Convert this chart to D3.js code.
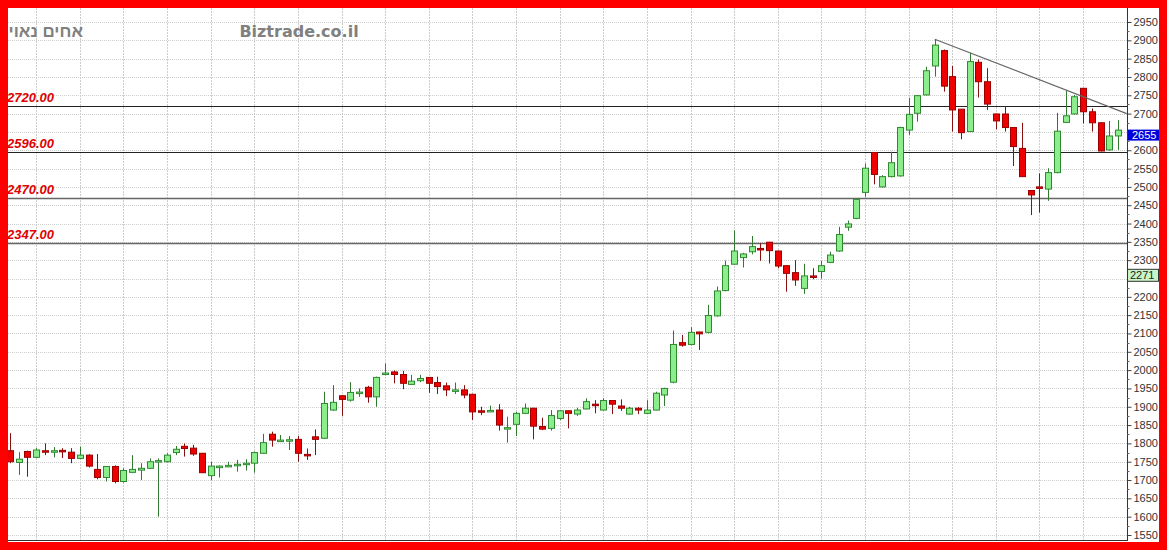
<!DOCTYPE html>
<html><head><meta charset="utf-8">
<script src="https://cdn.jsdelivr.net/npm/d3@7"></script>
<style>html,body{margin:0;padding:0;background:#fff}svg{display:block}</style>
</head><body>
<svg id="c" width="1167" height="550"></svg>
<script>
// ---- data ----
const opens  = [1780,1748,1778,1762,1780,1777,1781,1776,1759,1768,1729,1707,1737,1696,1721,1727,1732,1749,1750,1775,1792,1787,1773,1712,1737,1737,1741,1743,1746,1773,1825,1807,1808,1811,1770,1818,1814,1891,1930,1918,1938,1953,1927,1988,1995,1988,1961,1971,1980,1966,1957,1944,1946,1934,1889,1887,1891,1840,1852,1882,1896,1846,1841,1868,1889,1880,1894,1907,1891,1917,1902,1880,1896,1882,1891,1932,1967,2075,2070,2104,2103,2148,2217,2289,2307,2323,2332,2349,2325,2285,2266,2223,2257,2269,2294,2325,2390,2414,2485,2594,2500,2528,2530,2655,2701,2751,2830,2872,2801,2712,2651,2840,2787,2699,2699,2662,2605,2490,2500,2494,2539,2676,2699,2769,2705,2675,2601,2639];
const highs  = [1828,1776,1780,1787,1800,1790,1787,1787,1791,1770,1771,1738,1740,1732,1768,1746,1759,1759,1773,1793,1800,1796,1774,1750,1740,1750,1755,1757,1778,1826,1832,1823,1820,1820,1786,1838,1941,1959,1932,1967,1950,1957,1982,2018,1999,1998,1987,1987,1981,1982,1966,1966,1959,1935,1900,1903,1907,1873,1886,1909,1897,1870,1891,1891,1890,1897,1923,1918,1923,1918,1920,1900,1899,1918,1941,1952,2108,2096,2117,2105,2178,2228,2299,2381,2320,2366,2346,2350,2326,2286,2300,2290,2278,2298,2323,2391,2408,2469,2564,2595,2532,2596,2664,2743,2750,2828,2903,2875,2830,2713,2866,2848,2824,2700,2719,2663,2675,2491,2537,2551,2702,2762,2751,2770,2714,2676,2680,2682];
const lows   = [1746,1714,1709,1760,1768,1762,1760,1746,1757,1734,1702,1696,1691,1693,1719,1700,1730,1600,1748,1768,1764,1766,1719,1700,1707,1735,1723,1726,1720,1772,1791,1805,1782,1750,1755,1768,1812,1889,1875,1914,1927,1911,1900,1986,1964,1948,1960,1967,1938,1935,1929,1935,1923,1864,1877,1886,1835,1802,1820,1880,1811,1836,1835,1864,1841,1875,1893,1882,1890,1880,1889,1878,1880,1880,1890,1902,1964,2064,2068,2055,2100,2146,2215,2288,2280,2316,2298,2291,2278,2214,2230,2208,2248,2250,2292,2323,2380,2412,2473,2507,2498,2526,2528,2642,2678,2749,2801,2760,2651,2630,2650,2744,2710,2657,2651,2557,2527,2423,2430,2462,2537,2675,2697,2673,2651,2597,2599,2601];
const closes = [1750,1757,1762,1782,1777,1780,1777,1759,1768,1738,1707,1737,1696,1726,1729,1732,1750,1753,1768,1784,1786,1771,1720,1738,1738,1740,1743,1746,1775,1802,1809,1809,1810,1773,1768,1811,1909,1912,1920,1939,1940,1927,1980,1992,1988,1964,1970,1977,1964,1955,1946,1946,1932,1886,1886,1890,1850,1843,1882,1896,1847,1839,1876,1889,1882,1891,1914,1905,1917,1907,1896,1896,1891,1891,1937,1950,2070,2068,2103,2099,2149,2216,2285,2325,2317,2337,2328,2326,2284,2264,2246,2257,2255,2285,2314,2370,2399,2466,2551,2534,2528,2566,2662,2698,2749,2817,2887,2775,2710,2648,2842,2787,2726,2680,2662,2610,2528,2478,2496,2539,2652,2694,2746,2705,2675,2598,2639,2655];
const levels = [2720, 2596, 2470, 2347];
const levelLabels = ["2720.00", "2596.00", "2470.00", "2347.00"];
const yTicks = d3.range(1550, 2951, 50);
const hiddenTicks = [2650, 2250]; // covered by the value boxes in the reference
const trendIdx = [107, 129];
const trendVal = [2903, 2700];
const lastLabel = "2655";
const markerVal = 2271;
const markerLabel = "2271";
const title = "אחים נאוי";
const site = "Biztrade.co.il";

// ---- layout ----
const svg = d3.select("#c");
const L = 8, T = 8, R = 1127, B = 540;
const x = d3.scaleLinear().domain([1, 128]).range([10, 1118]);
const y = d3.scaleLinear().domain([1550, 2950]).range([535, 22]);

svg.append("rect").attr("width", 1167).attr("height", 550).attr("fill", "#fff");
svg.append("defs").append("clipPath").attr("id", "pc")
  .append("rect").attr("x", L).attr("y", T).attr("width", R - L).attr("height", B - T);

const g = svg.append("g").attr("clip-path", "url(#pc)");

// grid
g.selectAll(".hg").data(yTicks).enter().append("line")
  .attr("x1", L).attr("x2", R).attr("y1", d => Math.round(y(d)) + 0.5).attr("y2", d => Math.round(y(d)) + 0.5)
  .attr("stroke", "#cdcdcd").attr("stroke-dasharray", "1,1");
const vIdx = d3.range(4, 129, 5);
g.selectAll(".vg").data(vIdx).enter().append("line")
  .attr("x1", d => Math.round(x(d)) + 0.5).attr("x2", d => Math.round(x(d)) + 0.5).attr("y1", T).attr("y2", B)
  .attr("stroke", "#cdcdcd").attr("stroke-dasharray", "2,1");

// level lines
g.selectAll(".lv").data(levels).enter().append("line")
  .attr("x1", L).attr("x2", R).attr("y1", d => Math.round(y(d)) + 0.5).attr("y2", d => Math.round(y(d)) + 0.5)
  .attr("stroke", (d, i) => i < 2 ? "#222" : "#666").attr("stroke-width", (d, i) => i < 2 ? 1 : 1.6);
g.selectAll(".lvt").data(levels).enter().append("text")
  .attr("x", 7).attr("y", d => y(d) - 4)
  .attr("font-family", "Liberation Sans, Arial, sans-serif").attr("font-size", 13)
  .attr("font-weight", "bold").attr("font-style", "italic").attr("fill", "#e00000")
  .text((d, i) => levelLabels[i]);

// titles
g.append("text").attr("x", 83).attr("y", 37).attr("text-anchor", "end")
  .attr("font-family", "Liberation Sans, Arial, sans-serif").attr("font-size", 17).attr("font-weight", "bold")
  .attr("fill", "#808080").text(title);
g.append("text").attr("x", 299).attr("y", 37).attr("text-anchor", "middle")
  .attr("font-family", "DejaVu Sans, sans-serif").attr("font-size", 16).attr("font-weight", "bold")
  .attr("fill", "#808080").text(site);

// candles
const idx = d3.range(opens.length);
const up = i => closes[i] >= opens[i];
const cg = g.selectAll(".cd").data(idx).enter().append("g");
cg.append("line")
  .attr("x1", i => Math.round(x(i + 1)) + 0.5).attr("x2", i => Math.round(x(i + 1)) + 0.5)
  .attr("y1", i => y(highs[i])).attr("y2", i => y(lows[i]))
  .attr("stroke", i => up(i) ? "#2f7a2f" : "#8a1010").attr("stroke-width", 1);
cg.append("rect")
  .attr("x", i => Math.round(x(i + 1)) - 2.5).attr("width", 6)
  .attr("y", i => y(Math.max(opens[i], closes[i])))
  .attr("height", i => Math.max(1.5, Math.abs(y(opens[i]) - y(closes[i]))))
  .attr("fill", i => up(i) ? "#8ced8c" : "#ee0000")
  .attr("stroke", i => up(i) ? "#2f8a2f" : "#9a0000").attr("stroke-width", 1);

// trend line
g.append("line")
  .attr("x1", x(trendIdx[0])).attr("y1", y(trendVal[0]))
  .attr("x2", x(trendIdx[1])).attr("y2", y(trendVal[1]))
  .attr("stroke", "#666").attr("stroke-width", 1.2);

// axes frame
svg.append("line").attr("x1", R + 0.5).attr("x2", R + 0.5).attr("y1", T).attr("y2", B + 1).attr("stroke", "#333");
svg.append("line").attr("x1", L).attr("x2", R + 1).attr("y1", B + 0.5).attr("y2", B + 0.5).attr("stroke", "#333");

// right axis
const ax = svg.append("g").attr("transform", `translate(${R + 0.5},0)`)
  .call(d3.axisRight(y).tickValues(yTicks).tickSize(4).tickPadding(2)
    .tickFormat(d => hiddenTicks.includes(d) ? "" : d3.format("d")(d)));
ax.select(".domain").remove();
ax.selectAll("line").attr("stroke", "#444");
ax.selectAll("text").attr("font-family", "Liberation Sans, Arial, sans-serif").attr("font-size", 11).attr("fill", "#333");
const minor = d3.range(1575, 2951, 50);
svg.selectAll(".mt").data(minor).enter().append("line")
  .attr("x1", R).attr("x2", R + 2.5).attr("y1", d => Math.round(y(d)) + 0.5).attr("y2", d => Math.round(y(d)) + 0.5)
  .attr("stroke", "#666");

// value boxes
const lastClose = closes[closes.length - 1];
svg.append("rect").attr("x", R + 1).attr("y", y(lastClose) - 0.5).attr("width", 31).attr("height", 11)
  .attr("fill", "#0000dd");
svg.append("text").attr("x", R + 5).attr("y", y(lastClose) + 9).attr("font-family", "Liberation Sans, Arial, sans-serif")
  .attr("font-size", 11).attr("fill", "#fff").text(lastLabel);
svg.append("rect").attr("x", R + 0.5).attr("y", y(markerVal) - 1.5).attr("width", 31).attr("height", 12)
  .attr("fill", "#c8f5c8").attr("stroke", "#333").attr("stroke-width", 1);
svg.append("text").attr("x", R + 3).attr("y", y(markerVal) + 8.5).attr("font-family", "Liberation Sans, Arial, sans-serif")
  .attr("font-size", 11).attr("fill", "#222").text(markerLabel);

// red frame
const fr = "#ff0000";
svg.append("rect").attr("x", 0).attr("y", 0).attr("width", 1167).attr("height", 8).attr("fill", fr);
svg.append("rect").attr("x", 0).attr("y", 0).attr("width", 8).attr("height", 550).attr("fill", fr);
svg.append("rect").attr("x", 1159).attr("y", 0).attr("width", 8).attr("height", 550).attr("fill", fr);
svg.append("rect").attr("x", 0).attr("y", 542).attr("width", 1167).attr("height", 8).attr("fill", fr);
</script>
</body></html>
